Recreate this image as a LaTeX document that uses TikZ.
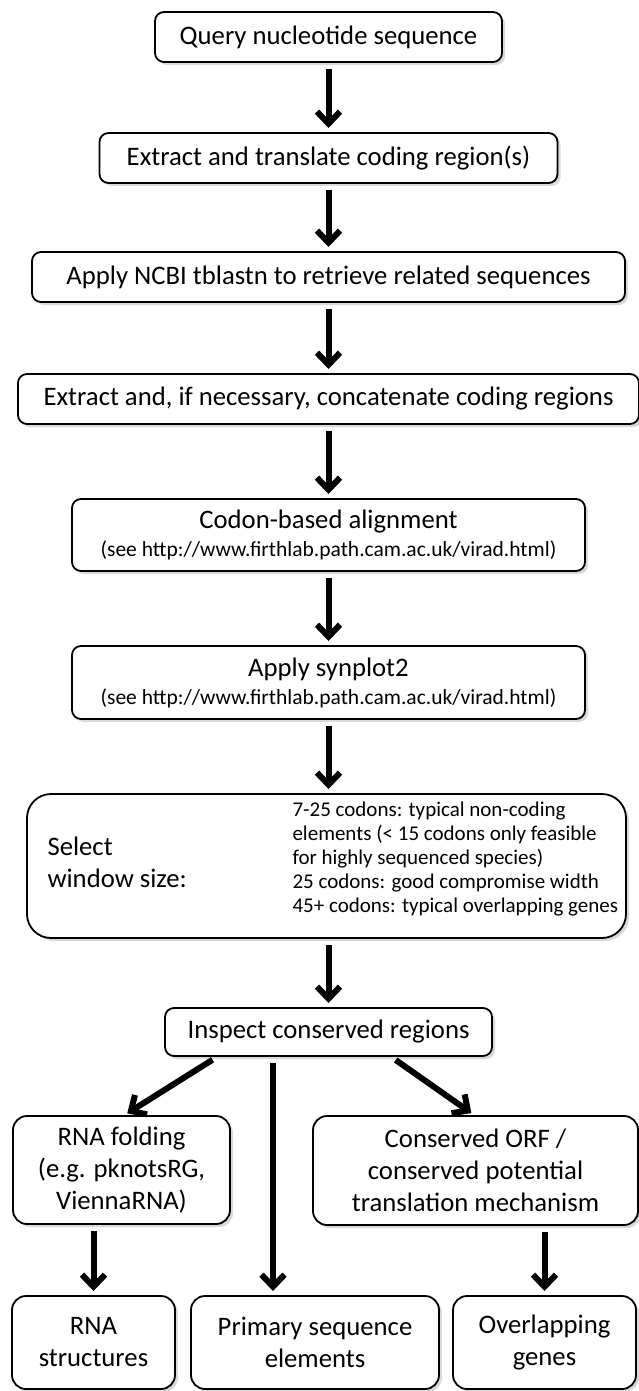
\documentclass[tikz,border=0pt]{standalone}
\usepackage{fontspec}
\setmainfont{Carlito}
\usetikzlibrary{positioning,arrows.meta,shadows}

\begin{document}
\begin{tikzpicture}[x=1pt,y=1pt,
		box/.style={draw,rounded corners=9pt,line width=1.8pt,fill=white,outer sep=0pt,
			drop shadow={shadow xshift=3pt,shadow yshift=-3pt,opacity=0.3},
			inner sep=2pt,minimum height=50pt,align=center,
			font=\fontsize{26.7}{32}\selectfont},
		small/.style={font=\fontsize{21}{24}\selectfont},
		flow/.style={line width=6pt,-{Straight Barb[length=12pt,width=23pt]},
			shorten <=7pt,shorten >=5pt}]
		\useasboundingbox (0,0) rectangle (639,-1391);

		\node[box,minimum width=347pt] at (328.5,-37)			(query)	{Query nucleotide sequence};
		\node[box,minimum width=458pt,node distance=71pt,below=of query]	(translate)	{Extract and translate coding region(s)};
		\node[box,minimum width=593pt,node distance=69pt,below=of translate]	(tblastn)	{Apply NCBI tblastn to retrieve related sequences};
		\node[box,minimum width=621pt,node distance=72pt,below=of tblastn]	(concat)	{Extract and, if necessary, concatenate coding regions};
		\node[box,minimum width=513pt,minimum height=72pt,node distance=75pt,below=of concat]	(align)
			{Codon-based alignment\\[-4pt]{\fontsize{21.5}{24}\selectfont (see http://www.firthlab.path.cam.ac.uk/virad.html)}};
		\node[box,minimum width=513pt,minimum height=73pt,node distance=75pt,below=of align]	(synplot)
			{Apply synplot2\\[-4pt]{\fontsize{21.5}{24}\selectfont (see http://www.firthlab.path.cam.ac.uk/virad.html)}};
		\node[box,rounded corners=24pt,minimum width=599pt,minimum height=144pt,node distance=75pt,below=of synplot,xshift=-2pt]	(window)	{};
		\node[anchor=west,align=left,font=\fontsize{26.7}{32}\selectfont] at ([xshift=17pt,yshift=4pt]window.west)	(windowlbl)	{Select\\window size:};
		\node[anchor=west,align=left,small] at ([xshift=262pt,yshift=7pt]window.west)	(windowopts)
			{7-25 codons: typical non-coding\\elements (< 15 codons only feasible\\for highly sequenced species)\\25 codons: good compromise width\\45+ codons: typical overlapping genes};
		\node[box,minimum width=327pt,minimum height=48pt,node distance=70pt,below=of window,xshift=2pt]	(inspect)	{Inspect conserved regions};

		\node[box,rounded corners=14pt,minimum width=217pt,minimum height=108pt] at (121.5,-1170)	(fold)
			{RNA folding\\(e.g. pknotsRG,\\ViennaRNA)};
		\node[box,rounded corners=14pt,minimum width=325pt,minimum height=109pt] at (475.5,-1170.5)	(orf)
			{Conserved ORF /\\conserved potential\\translation mechanism};
		\node[box,rounded corners=14pt,minimum width=163pt,minimum height=93pt] at (93.5,-1342.5)	(structs)
			{RNA\\structures};
		\node[box,rounded corners=14pt,minimum width=248pt,minimum height=93pt] at (315,-1342.5)	(primary)
			{Primary sequence\\elements};
		\node[box,rounded corners=14pt,minimum width=183pt,minimum height=93pt] at (544.5,-1342.5)	(overlap)
			{Overlapping\\genes};

		\draw[flow] (query.south) -- (query.south |- translate.north);
		\draw[flow] (translate.south -| query.south) -- (query.south |- tblastn.north);
		\draw[flow] (tblastn.south -| query.south) -- (query.south |- concat.north);
		\draw[flow] (concat.south -| query.south) -- (query.south |- align.north);
		\draw[flow] (align.south -| query.south) -- (query.south |- synplot.north);
		\draw[flow] (synplot.south -| query.south) -- (query.south |- window.north);
		\draw[flow] (window.south -| query.south) -- (query.south |- inspect.north);
		\draw[flow] ([xshift=-110pt]inspect.south) -- ([xshift=1.5pt]fold.north);
		\draw[flow] ([xshift=-55.5pt]inspect.south) -- ([xshift=-55.5pt]inspect.south |- primary.north);
		\draw[flow] ([xshift=61.5pt]inspect.south) -- (orf.north);
		\draw[flow] (structs.north |- fold.south) -- (structs.north);
		\draw[flow] (overlap.north |- orf.south) -- (overlap.north);
	\end{tikzpicture}
\end{document}
